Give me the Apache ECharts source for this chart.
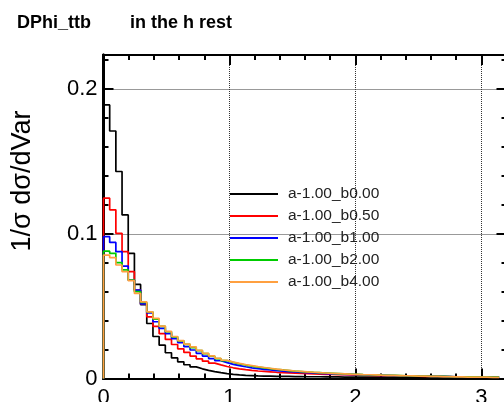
<!DOCTYPE html>
<html><head><meta charset="utf-8">
<script src="https://cdn.jsdelivr.net/npm/echarts@6/dist/echarts.min.js"></script>
<style>html,body{margin:0;padding:0;background:#fff}#c{width:504px;height:402px}</style>
</head><body><div id="c"></div>
<script>
// histogram: 64 bins from 0 to pi, values are fraction per bin
const nBins = 64;
const binWidth = Math.PI / nBins;
const seriesNames = ['a-1.00_b0.00','a-1.00_b0.50','a-1.00_b1.00','a-1.00_b2.00','a-1.00_b4.00'];
const b000 = [0.189,0.171,0.143,0.113,0.0865,0.065,0.051,0.038,0.029,0.023,0.0178,0.0142,0.0115,0.0095,0.008,0.0067,0.0056,0.0047,0.004,0.0034,0.0029,0.0025,0.0022,0.002,0.0018,0.0017,0.0016,0.0015,0.0014,0.0014,0.0013,0.0013,0.0012,0.0012,0.0012,0.0011,0.0011,0.0011,0.001,0.001,0.001,0.001,0.001,0.0009,0.0009,0.0009,0.0009,0.0009,0.0009,0.0008,0.0008,0.0008,0.0008,0.0008,0.0008,0.0008,0.0008,0.0008,0.0008,0.0007,0.0007,0.0007,0.0007,0.0007];
const b050 = [0.1246,0.1165,0.1003,0.0876,0.0738,0.061,0.0515,0.0426,0.036,0.031,0.027,0.0235,0.0205,0.018,0.0155,0.0136,0.012,0.0106,0.0094,0.0083,0.0074,0.0067,0.0061,0.0056,0.0052,0.0049,0.0046,0.0043,0.0041,0.0039,0.0037,0.0035,0.0033,0.0032,0.003,0.0029,0.0028,0.0027,0.0026,0.0025,0.0024,0.0023,0.0022,0.0021,0.002,0.0019,0.0018,0.0018,0.0017,0.0016,0.0016,0.0015,0.0014,0.0014,0.0013,0.0013,0.0012,0.0012,0.0011,0.0011,0.001,0.001,0.001,0.0009];
const b100 = [0.098,0.094,0.0876,0.0777,0.068,0.0611,0.0515,0.0454,0.0392,0.0346,0.031,0.0275,0.0248,0.022,0.0197,0.0174,0.0155,0.0138,0.0123,0.011,0.0098,0.0089,0.0081,0.0074,0.0068,0.0063,0.0059,0.0055,0.0051,0.0048,0.0045,0.0042,0.004,0.0038,0.0036,0.0034,0.0032,0.003,0.0029,0.0028,0.0027,0.0025,0.0024,0.0023,0.0022,0.0021,0.002,0.0019,0.0018,0.0017,0.0016,0.0016,0.0015,0.0014,0.0014,0.0013,0.0012,0.0012,0.0011,0.0011,0.001,0.001,0.0009,0.0009];
const b200 = [0.088,0.0865,0.080,0.075,0.068,0.060,0.0525,0.046,0.041,0.036,0.0323,0.0288,0.026,0.0236,0.0214,0.0192,0.0172,0.0154,0.0138,0.0124,0.0111,0.0101,0.0093,0.0086,0.0079,0.0073,0.0068,0.0063,0.0059,0.0055,0.0051,0.0048,0.0045,0.0042,0.004,0.0038,0.0036,0.0034,0.0032,0.003,0.0029,0.0027,0.0026,0.0025,0.0023,0.0022,0.0021,0.002,0.0019,0.0018,0.0017,0.0016,0.0015,0.0014,0.0014,0.0013,0.0012,0.0012,0.0011,0.0011,0.001,0.001,0.0009,0.0009];
const b400 = [0.0853,0.0835,0.0784,0.0738,0.0676,0.0588,0.053,0.046,0.0415,0.0362,0.0325,0.029,0.0262,0.0238,0.0219,0.0195,0.0174,0.0156,0.014,0.0126,0.0113,0.0104,0.0096,0.0089,0.0082,0.0076,0.007,0.0065,0.006,0.0056,0.0052,0.0049,0.0046,0.0043,0.004,0.0038,0.0036,0.0034,0.0032,0.003,0.0029,0.0027,0.0026,0.0025,0.0023,0.0022,0.0021,0.002,0.0019,0.0018,0.0017,0.0016,0.0015,0.0014,0.0013,0.0012,0.0011,0.0011,0.001,0.001,0.0009,0.0009,0.0008,0.0008];
const seriesValues = [b000, b050, b100, b200, b400];
const colors = ['#000000','#ff0000','#0000ff','#00cc00','#ffa040'];
const xTickLabels = ['0','1','2','3'];
const yTickLabels = ['0','0.1','0.2'];

function stepData(vals){
  const d = [[0,0]];
  vals.forEach((v,i)=>d.push([i*binWidth, v]));
  d.push([vals.length*binWidth, vals[vals.length-1]]);
  return d;
}

const FONT = 'Liberation Sans, Helvetica, Arial, sans-serif';
const X_MAX = 3.2, Y_MAX = 0.2235;
function xAx(pos, interval, len, labels, split){
  return {type:'value', position:pos, min:0, max:X_MAX, interval:interval,
    axisLine:{show:true, onZero:false, lineStyle:{color:'#000', width:2}},
    axisTick:{show:true, inside:true, length:len, lineStyle:{color:'#000', width:2}},
    axisLabel:{show:labels, margin:8, color:'#000', fontSize:22, fontFamily:FONT,
      formatter:(v)=>{const i=Math.round(v); return Math.abs(v-i)<1e-6 ? xTickLabels[i] : '';}},
    splitLine:{show:split, lineStyle:{color:'#333', type:'dotted', width:1}}};
}
function yAx(pos, interval, len, labels, split){
  return {type:'value', position:pos, min:0, max:Y_MAX, interval:interval,
    axisLine:{show:true, onZero:false, lineStyle:{color:'#000', width:3}},
    axisTick:{show:true, inside:true, length:len, lineStyle:{color:'#000', width:2}},
    axisLabel:{show:labels, margin:6, color:'#000', fontSize:22, fontFamily:FONT,
      formatter:(v)=>{const i=Math.round(v*10); return Math.abs(v*10-i)<1e-6 ? yTickLabels[i] : '';}},
    splitLine:{show:split, lineStyle:{color:'#333', type:'dotted', width:1}}};
}

const chart = echarts.init(document.getElementById('c'), null, {renderer:'canvas'});
chart.setOption({
  animation:false,
  backgroundColor:'#fff',
  title:[
    {text:'DPhi_ttb', left:17, top:14, padding:0, textStyle:{fontSize:18, fontWeight:'bold', color:'#000', fontFamily:FONT}},
    {text:'in the h rest', left:130, top:14, padding:0, textStyle:{fontSize:18, fontWeight:'bold', color:'#000', fontFamily:FONT}}
  ],
  grid:{left:103.5, width:403, top:55, bottom:23.5, containLabel:false, outerBoundsMode:'none'},
  xAxis:[xAx('bottom',1,10,true,true), xAx('bottom',0.2,5,false,false), xAx('top',1,10,false,false), xAx('top',0.2,5,false,false)],
  yAxis:[yAx('left',0.1,10,true,true), yAx('left',0.02,5,false,false), yAx('right',0.1,10,false,false), yAx('right',0.02,5,false,false)],
  legend:{orient:'vertical', left:230, top:186, padding:0, itemWidth:48, itemHeight:2, itemGap:6, icon:'rect',
    textStyle:{fontSize:15.5, color:'#222', fontFamily:FONT, lineHeight:15, padding:[0,0,0,5]},
    data:seriesNames},
  graphic:[{type:'text', x:23, y:181, rotation:Math.PI/2,
    style:{text:'1/σ dσ/dVar', fontSize:27, fontFamily:FONT, fill:'#000', align:'center', verticalAlign:'middle'}}],
  series: seriesValues.map((vals,k)=>({
    name:seriesNames[k], type:'line', step:'end', xAxisIndex:0, yAxisIndex:0,
    data:stepData(vals), showSymbol:false, symbol:'none', clip:true,
    lineStyle:{color:colors[k], width:1.7}, itemStyle:{color:colors[k]}, z:2+k
  }))
});
</script></body></html>
